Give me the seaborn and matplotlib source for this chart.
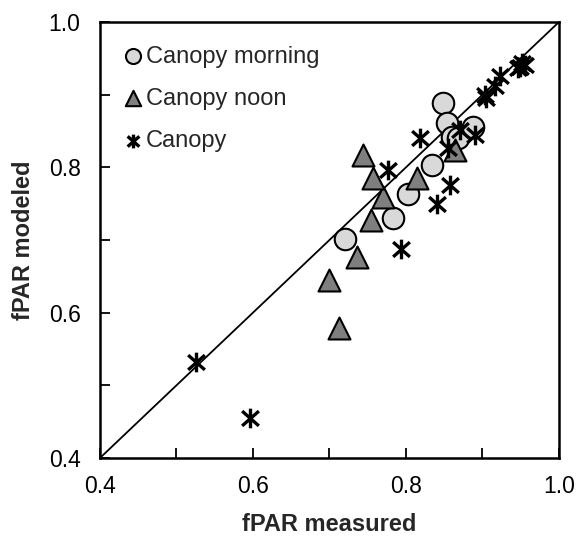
import numpy as np
import pandas as pd
import matplotlib
matplotlib.use("Agg")
import matplotlib.pyplot as plt
from matplotlib.path import Path
import seaborn as sns

# values
morning_x = [0.720, 0.783, 0.802, 0.834, 0.848, 0.854, 0.860, 0.868, 0.887]
morning_y = [0.701, 0.730, 0.763, 0.803, 0.889, 0.861, 0.842, 0.840, 0.855]

noon_x = [0.712, 0.700, 0.736, 0.754, 0.770, 0.757, 0.744, 0.814, 0.864]
noon_y = [0.579, 0.645, 0.677, 0.728, 0.759, 0.785, 0.817, 0.785, 0.824]

canopy_x = [0.525, 0.596, 0.793, 0.777, 0.818, 0.840, 0.857, 0.855, 0.870,
            0.890, 0.903, 0.905, 0.916, 0.923, 0.949, 0.951, 0.956, 0.947]
canopy_y = [0.532, 0.455, 0.688, 0.796, 0.840, 0.750, 0.776, 0.826, 0.851,
            0.844, 0.899, 0.895, 0.912, 0.925, 0.938, 0.944, 0.941, 0.936]

ticks = [0.4, 0.5, 0.6, 0.7, 0.8, 0.9, 1.0]
tick_labels = ["0.4", "", "0.6", "", "0.8", "", "1.0"]

sns.set_style("ticks")
plt.rcParams['font.family'] = ['Liberation Sans', 'DejaVu Sans']

# asterisk like the Excel one: vertical bar plus an X
star = Path([(0, -1), (0, 1), (-0.85, -0.75), (0.85, 0.75),
             (-0.85, 0.75), (0.85, -0.75)],
            [Path.MOVETO, Path.LINETO] * 3)

fig = plt.figure(figsize=(5.77, 5.40), dpi=100)
ax = fig.add_axes([0.1733, 0.1519, 0.7955, 0.8074])

# 1:1 line
ax.plot([0.4, 1.0], [0.4, 1.0], color='black', lw=1.3, zorder=1)

sns.scatterplot(x=canopy_x, y=canopy_y, ax=ax, marker=star, s=200,
                color='black', edgecolor='black', linewidth=2.4,
                label='Canopy', zorder=3)
sns.scatterplot(x=morning_x, y=morning_y, ax=ax, marker='o', s=240,
                color='#d9d9d9', edgecolor='black', linewidth=1.5,
                label='Canopy morning', zorder=2)
sns.scatterplot(x=noon_x, y=noon_y, ax=ax, marker='^', s=250,
                color='#7f7f7f', edgecolor='black', linewidth=1.5,
                label='Canopy noon', zorder=2)

ax.set_xlim(0.4, 1.0)
ax.set_ylim(0.4, 1.0)
ax.set_xticks(ticks)
ax.set_xticklabels(tick_labels)
ax.set_yticks(ticks)
ax.set_yticklabels(tick_labels)
ax.tick_params(direction='in', length=7, width=1.3, labelsize=16.5,
               colors='black')
ax.tick_params(axis='x', pad=12)
ax.tick_params(axis='y', pad=14)
for sp in ax.spines.values():
    sp.set_linewidth(1.8)
    sp.set_color('black')

ax.set_xlabel('fPAR measured', fontsize=17, fontweight='bold', labelpad=11)
ax.set_ylabel('fPAR modeled', fontsize=17, fontweight='bold', labelpad=10)

handles, labels = ax.get_legend_handles_labels()
order = [labels.index(l) for l in ['Canopy morning', 'Canopy noon', 'Canopy']]
ax.legend([handles[i] for i in order], [labels[i] for i in order],
          loc='upper left', bbox_to_anchor=(0.0, 1.0), frameon=False,
          fontsize=17, handlelength=0.8, handletextpad=0.15,
          labelspacing=0.85, markerscale=0.7, borderaxespad=0.6)

fig.savefig('out.png', dpi=100)
